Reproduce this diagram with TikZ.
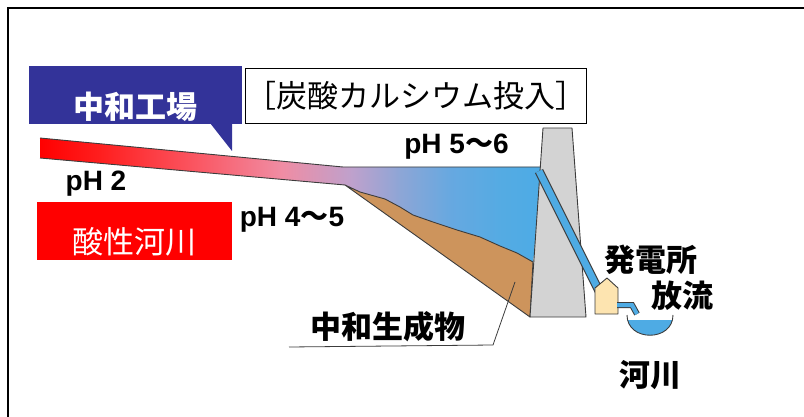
\documentclass[tikz,border=0pt]{standalone}
\usepackage{fontspec}
\setmainfont{Liberation Sans}
\newfontfamily\jpfont{Noto Sans CJK JP}
\definecolor{nzblue}{RGB}{51,51,153}
\definecolor{nzred}{RGB}{255,0,0}
\definecolor{nzwater}{RGB}{78,171,228}
\definecolor{nzmud}{RGB}{205,148,92}
\definecolor{nzdam}{RGB}{211,211,211}
\definecolor{nzhouse}{RGB}{253,228,176}
\definecolor{nzline}{RGB}{60,60,60}
\pgfdeclarehorizontalshading{nzfade}{100bp}{rgb(0bp)=(1,0,0); rgb(25bp)=(1,0,0);
  rgb(31bp)=(1,0.12,0.12); rgb(41bp)=(0.98,0.35,0.4); rgb(49bp)=(0.94,0.55,0.64);
  rgb(55.9bp)=(0.75,0.63,0.8); rgb(60.9bp)=(0.55,0.65,0.84); rgb(65.9bp)=(0.4,0.66,0.88);
  rgb(70.9bp)=(0.33,0.67,0.89); rgb(75bp)=(0.3,0.67,0.9); rgb(100bp)=(0.3,0.67,0.9)}
\newcommand{\nzwave}{{\jpfont ～}}
\tikzset{
  nzJp/.style={font=\jpfont\bfseries\fontsize{31}{31}\selectfont, inner sep=0pt},
  nzJpThin/.style={font=\jpfont\fontsize{31}{31}\selectfont, inner sep=0pt},
  nzPh/.style={font=\bfseries\fontsize{28}{28}\selectfont, inner sep=0pt},
  nzEdge/.style={draw=nzline, line width=0.9pt, line join=round},
  nzLead/.style={draw=nzline, line width=0.8pt}
}

\begin{document}
\begin{tikzpicture}[x=1pt,y=-1pt]
  \useasboundingbox (0,0) rectangle (804,417);
  \draw[line width=2.2pt] (8,417) -- (8,8) -- (804,8);

  % plant callout and dosing box
  \fill[nzblue] (29,66) rectangle (242,124);
  \fill[nzblue] (210,123) -- (232,123) -- (232,151) -- cycle;
  \node[nzJp, text=white] (plant) at (135.5,106.5) {中和工場};
  \node[nzJpThin, draw, line width=0.8pt, minimum width=340pt, minimum height=55pt] (dose) at (416,95.5) {［炭酸カルシウム投入］};

  % acid river running into the reservoir
  \shade[shading=nzfade] (40,138) -- (343,167) -- (543,167) -- (533,263) -- (517,253) -- (500,246)
    -- (480,237) -- (457,230) -- (433,222) -- (413,215) -- (400,207) -- (385,199) -- (360,192)
    -- (345,185) -- (40,158) -- cycle;
  \draw[nzEdge] (40,138) -- (343,167) -- (543,167);
  \draw[nzEdge] (40,158) -- (345,185);

  % settled sludge
  \filldraw[nzEdge, fill=nzmud] (345,185) -- (360,192) -- (385,199) -- (400,207) -- (413,215)
    -- (433,222) -- (457,230) -- (480,237) -- (500,246) -- (517,253) -- (533,262) -- (530,317) -- cycle;

  % dam, penstock, power house
  \filldraw[nzEdge, fill=nzdam] (543,128) -- (572,128) -- (586,317) -- (530,317) -- cycle;
  \draw[nzline, line width=9pt] (539,171) -- (600,293);
  \draw[nzwater, line width=6.8pt] (539,171) -- (600,293);
  \filldraw[nzEdge, fill=nzhouse] (595,314) -- (618,314) -- (618,288) -- (607,278) -- (595,288) -- cycle;
  \draw[nzline, line width=6pt] (617,305) -- (632,305) -- (637,314);
  \draw[nzwater, line width=4pt] (617,305) -- (632,305) -- (637,314);

  % river below
  \begin{scope}
    \clip (627,315) .. controls (627,342) and (673,342) .. (673,315) -- cycle;
    \fill[nzwater] (620,320) rectangle (680,345);
  \end{scope}
  \draw[nzEdge] (627,315) .. controls (627,342) and (673,342) .. (673,315);

  % labels
  \node[nzPh] (ph2) at (96,184) {pH 2};
  \node[nzPh] (ph45) at (292,219.5) {pH 4\nzwave 5};
  \node[nzPh] (ph56) at (456.5,146.5) {pH 5\nzwave 6};
  \fill[nzred] (37,202) rectangle (232,260);
  \node[nzJpThin, text=white] (acid) at (134,241.5) {酸性河川};
  \node[nzJp] (sludge) at (387.5,326.5) {中和生成物};
  \coordinate (leadA) at (289,347);
  \coordinate (leadB) at (493,345);
  \coordinate (leadC) at (515,282);
  \draw[nzLead] (leadA) -- (leadB) -- (leadC);
  \node[nzJp] (power) at (650.5,260) {発電所};
  \node[nzJp] (outflow) at (682.5,296) {放流};
  \node[nzJp] (river) at (650,375.5) {河川};
\end{tikzpicture}
\end{document}
